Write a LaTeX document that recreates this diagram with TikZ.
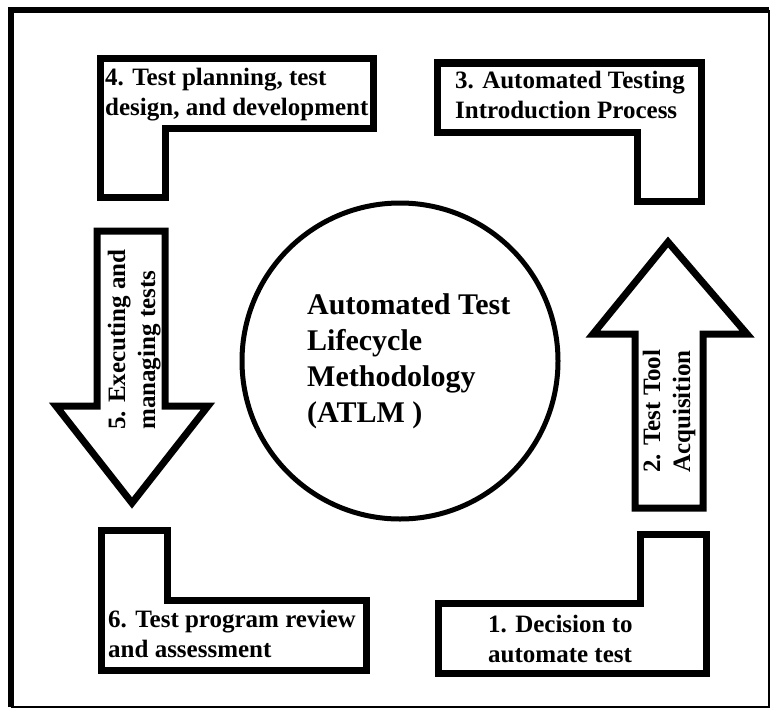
\documentclass[tikz,border=0pt]{standalone}
\usepackage{fontspec}
\setmainfont{Liberation Serif}
\begin{document}
\begin{tikzpicture}[x=1pt,y=-1pt,
  outline/.style={draw=black, line width=7pt, line join=miter, miter limit=10, fill=white},
  boxtext/.style={inner sep=0pt, align=left, anchor=base west,
                  font=\fontsize{25}{30}\selectfont\bfseries},
  hubtext/.style={inner sep=0pt, align=left, anchor=base west,
                  font=\fontsize{30}{36}\selectfont\bfseries}]
\useasboundingbox (0,0) rectangle (773,709);
\fill[white] (0,0) rectangle (773,709);

% page frame
\draw[line width=6pt] (11,707) -- (11,10) -- (769,10);
\draw[line width=2.5pt] (769,10) -- (769,707) -- (11,707);

% 4: top-left L block
\draw[outline] (100,59) -- (373,59) -- (373,128) -- (165,128) -- (165,197) -- (100,197) -- cycle;
% 3: top-right L block
\draw[outline] (437,63) -- (701,63) -- (701,201) -- (637,201) -- (637,132) -- (437,132) -- cycle;
% 1: bottom-right L block
\draw[outline] (438,603) -- (640,603) -- (640,534) -- (706,534) -- (706,673) -- (438,673) -- cycle;
% 6: bottom-left L block
\draw[outline] (101,530) -- (167,530) -- (167,600) -- (366,600) -- (366,670) -- (101,670) -- cycle;
% 5: downward arrow
\draw[outline] (97,231) -- (165,231) -- (165,406) -- (208,406) -- (132,503) -- (56,406) -- (97,406) -- cycle;
% 2: upward arrow
\draw[outline] (668,242) -- (747,334) -- (703,334) -- (703,508) -- (635,508) -- (635,334) -- (593,334) -- cycle;

% central circle
\node[circle, draw=black, line width=5pt, minimum size=316pt, inner sep=0pt] (hub) at (400,361) {};
% multi-line labels are placed by the baseline of their last line
\node[hubtext] (hublabel) at (307,422) {Automated Test\\Lifecycle\\Methodology\\(ATLM )};

% step labels
\node[boxtext] (s4) at (105,115) {4. Test planning, test\\design, and development};
\node[boxtext] (s3) at (455,118) {3. Automated Testing\\Introduction Process};
\node[boxtext] (s6) at (108,657) {6. Test program review\\and assessment};
\node[boxtext] (s1) at (488,662) {1. Decision to\\automate test};
\node[boxtext, rotate=90] (s5) at (155,430) {5. Executing and\\managing tests};
\node[boxtext, rotate=90] (s2) at (690,473) {2. Test Tool\\Acquisition};
\end{tikzpicture}
\end{document}
